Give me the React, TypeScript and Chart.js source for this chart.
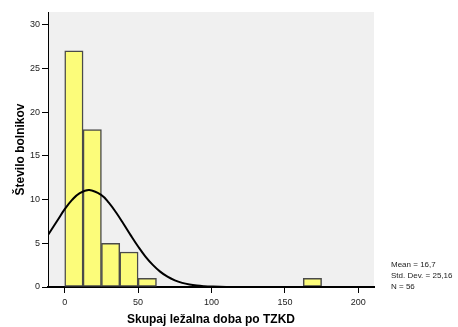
import React, { useEffect, useRef } from "react";
import { Chart, registerables } from "chart.js";

Chart.register(...registerables);

// Histogram bins (lower edge, width 12.5) and counts
const binLower = [0, 12.5, 25, 37.5, 50, 162.5];
const binWidth = 12.5;
const counts = [27, 18, 5, 4, 1, 1];

// Normal curve
const curveX = [-11.4, -5, 0, 5, 10, 16.7, 25, 30, 35, 40, 45, 50, 55, 60, 65, 70, 75, 80, 85, 90, 95, 100, 110, 130, 211];
const curveY = [5.95, 7.6, 8.9, 9.96, 10.71, 11.1, 10.51, 9.65, 8.52, 7.23, 5.9, 4.63, 3.48, 2.53, 1.76, 1.18, 0.76, 0.47, 0.28, 0.16, 0.09, 0.05, 0.01, 0, 0];

const xTicks = [0, 50, 100, 150, 200];
const yTicks = [0, 5, 10, 15, 20, 25, 30];

const statsLines = ["Mean = 16,7", "Std. Dev. = 25,16", "N = 56"];

const xTitle = "Skupaj ležalna doba po TZKD";
const yTitle = "Število bolnikov";

const FONT = '"Liberation Sans", Arial, sans-serif';

export default function App() {
  const ref = useRef<HTMLCanvasElement | null>(null);

  useEffect(() => {
    if (!ref.current) return;
    const bgPlugin = {
      id: "bg",
      beforeDraw(chart: any) {
        const { ctx, chartArea } = chart;
        ctx.save();
        ctx.fillStyle = "#F0F0F0";
        ctx.fillRect(chartArea.left, chartArea.top, chartArea.right - chartArea.left, chartArea.bottom - chartArea.top);
        ctx.restore();
      },
    };
    const statsPlugin = {
      id: "stats",
      afterDraw(chart: any) {
        const { ctx } = chart;
        ctx.save();
        ctx.fillStyle = "#222";
        ctx.font = `8px ${FONT}`;
        ctx.textBaseline = "middle";
        ctx.textAlign = "left";
        const ys = [265, 276, 287];
        statsLines.forEach((t, i) => ctx.fillText(t, 391, ys[i]));
        ctx.restore();
      },
    };

    const chart = new Chart(ref.current, {
      type: "bar",
      data: {
        datasets: [
          {
            type: "line",
            data: curveX.map((x, i) => ({ x, y: curveY[i] })),
            borderColor: "#000",
            borderWidth: 2,
            pointRadius: 0,
            tension: 0.4,
            fill: false,
            order: 0,
          } as any,
          {
            type: "bar",
            data: binLower.map((b, i) => ({ x: b + binWidth / 2, y: counts[i] })),
            backgroundColor: "#FCFC7A",
            borderColor: "#4A4A4A",
            borderWidth: 1.5,
            borderSkipped: false,
            barPercentage: 1,
            categoryPercentage: 1,
            order: 1,
          } as any,
        ],
      },
      options: {
        responsive: false,
        animation: false,
        layout: { padding: { top: 12, right: 84, left: 0, bottom: 0 } },
        plugins: { legend: { display: false }, tooltip: { enabled: false } },
        scales: {
          x: {
            type: "linear",
            min: -11.4,
            max: 210.7,
            offset: false,
            afterBuildTicks: (s: any) => {
              s.ticks = xTicks.map((v) => ({ value: v }));
            },
            afterFit: (s: any) => {
              s.height = 40;
            },
            grid: { display: true, drawOnChartArea: false, drawTicks: true, tickLength: 6, color: "#000", offset: false },
            border: { display: true, color: "#000", width: 2 },
            ticks: { color: "#222", font: { family: FONT, size: 9 }, padding: 4, maxRotation: 0 },
            title: { display: true, text: xTitle, color: "#000", font: { family: FONT, size: 12, weight: "bold" }, padding: { top: 0, bottom: 0 } },
          },
          y: {
            min: 0,
            max: 31.45,
            afterBuildTicks: (s: any) => {
              s.ticks = yTicks.map((v) => ({ value: v }));
            },
            afterFit: (s: any) => {
              s.width = 48;
            },
            grid: { display: true, drawOnChartArea: false, drawTicks: true, tickLength: 6, color: "#000" },
            border: { display: true, color: "#000", width: 1 },
            ticks: { color: "#222", font: { family: FONT, size: 9 }, padding: 2 },
            title: { display: true, text: yTitle, color: "#000", font: { family: FONT, size: 12, weight: "bold" }, padding: { top: 13, bottom: 0 } },
          },
        },
      },
      plugins: [bgPlugin, statsPlugin],
    });
    return () => chart.destroy();
  }, []);

  return (
    <div style={{ position: "absolute", left: 0, top: 0, width: 458, height: 327, background: "#fff" }}>
      <canvas ref={ref} width={458} height={327} style={{ display: "block" }} />
    </div>
  );
}
